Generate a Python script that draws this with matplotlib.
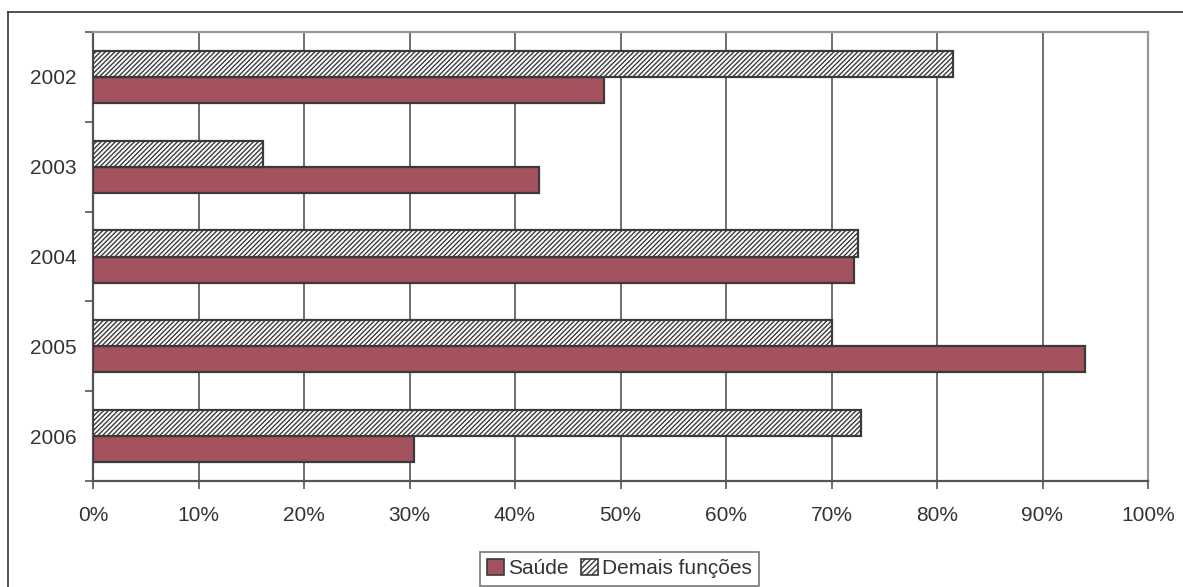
import matplotlib
matplotlib.use("Agg")
import matplotlib.pyplot as plt
from matplotlib.lines import Line2D
from matplotlib.patches import Patch
import numpy as np

plt.rcParams['font.family'] = ['Liberation Sans', 'DejaVu Sans']
plt.rcParams['hatch.linewidth'] = 1.0
plt.rcParams['hatch.color'] = '#3a3a3a'

years = ['2002', '2003', '2004', '2005', '2006']
saude = [48.4, 42.3, 72.1, 94.0, 30.4]
demais = [81.5, 16.1, 72.5, 70.0, 72.8]
series_labels = ['Saúde', 'Demais funções']
x_ticks = [0, 10, 20, 30, 40, 50, 60, 70, 80, 90, 100]

text_color = '#333333'
edge_color = '#3a3a3a'
saude_color = '#a5525f'

fig = plt.figure(figsize=(11.83, 5.87), dpi=100)
ax = fig.add_axes([93 / 1183, 1 - 481 / 587, (1148 - 93) / 1183, (481 - 32) / 587])

n = len(years)
pos = np.arange(n)
h = 0.29
ax.barh(pos + h / 2, saude, height=h, color=saude_color, edgecolor=edge_color, linewidth=1.6, zorder=3)
ax.barh(pos - h / 2, demais, height=h, color='white', edgecolor=edge_color, linewidth=1.6,
        hatch='///////', zorder=3)

ax.set_xlim(0, 100)
ax.set_ylim(n - 0.5, -0.5)
ax.set_xticks(x_ticks)
ax.set_xticklabels([f'{t}%' for t in x_ticks], fontsize=15, color=text_color)
ax.set_yticks(pos)
ax.set_yticklabels(years, fontsize=15, color=text_color)
ax.set_yticks(np.arange(-0.5, n), minor=True)
ax.tick_params(axis='y', which='major', length=0, pad=12)
ax.tick_params(axis='y', which='minor', length=6, width=1.2, color='#555555')
ax.tick_params(axis='x', length=6, width=1.2, color='#555555', pad=12)
ax.xaxis.grid(True, color='#555555', linewidth=1.2, zorder=0)
ax.set_axisbelow(True)

for side in ['left', 'bottom']:
    ax.spines[side].set_color('#555555')
    ax.spines[side].set_linewidth(1.6)
for side in ['top', 'right']:
    ax.spines[side].set_color('#a09595')
    ax.spines[side].set_linewidth(1.6)

# outer chart frame
fig.add_artist(Line2D([8 / 1183, 8 / 1183], [0, 1 - 12 / 587], transform=fig.transFigure,
                      color='#333333', linewidth=1.2))
fig.add_artist(Line2D([8 / 1183, 1], [1 - 12 / 587, 1 - 12 / 587], transform=fig.transFigure,
                      color='#333333', linewidth=1.2))

handles = [Patch(facecolor=saude_color, edgecolor=edge_color, linewidth=1.2),
           Patch(facecolor='white', edgecolor=edge_color, linewidth=1.2, hatch='//////')]
leg = fig.legend(handles, series_labels, loc='upper left',
                 bbox_to_anchor=(480 / 1183, 1 - 552 / 587), ncol=2, fontsize=15,
                 frameon=True, fancybox=False, handlelength=0.8, handleheight=0.8,
                 handletextpad=0.2, columnspacing=0.6, borderpad=0.35, borderaxespad=0)
leg.get_frame().set_edgecolor('#555555')
leg.get_frame().set_linewidth(1.2)
for t in leg.get_texts():
    t.set_color(text_color)

fig.savefig('out.png', dpi=100)
